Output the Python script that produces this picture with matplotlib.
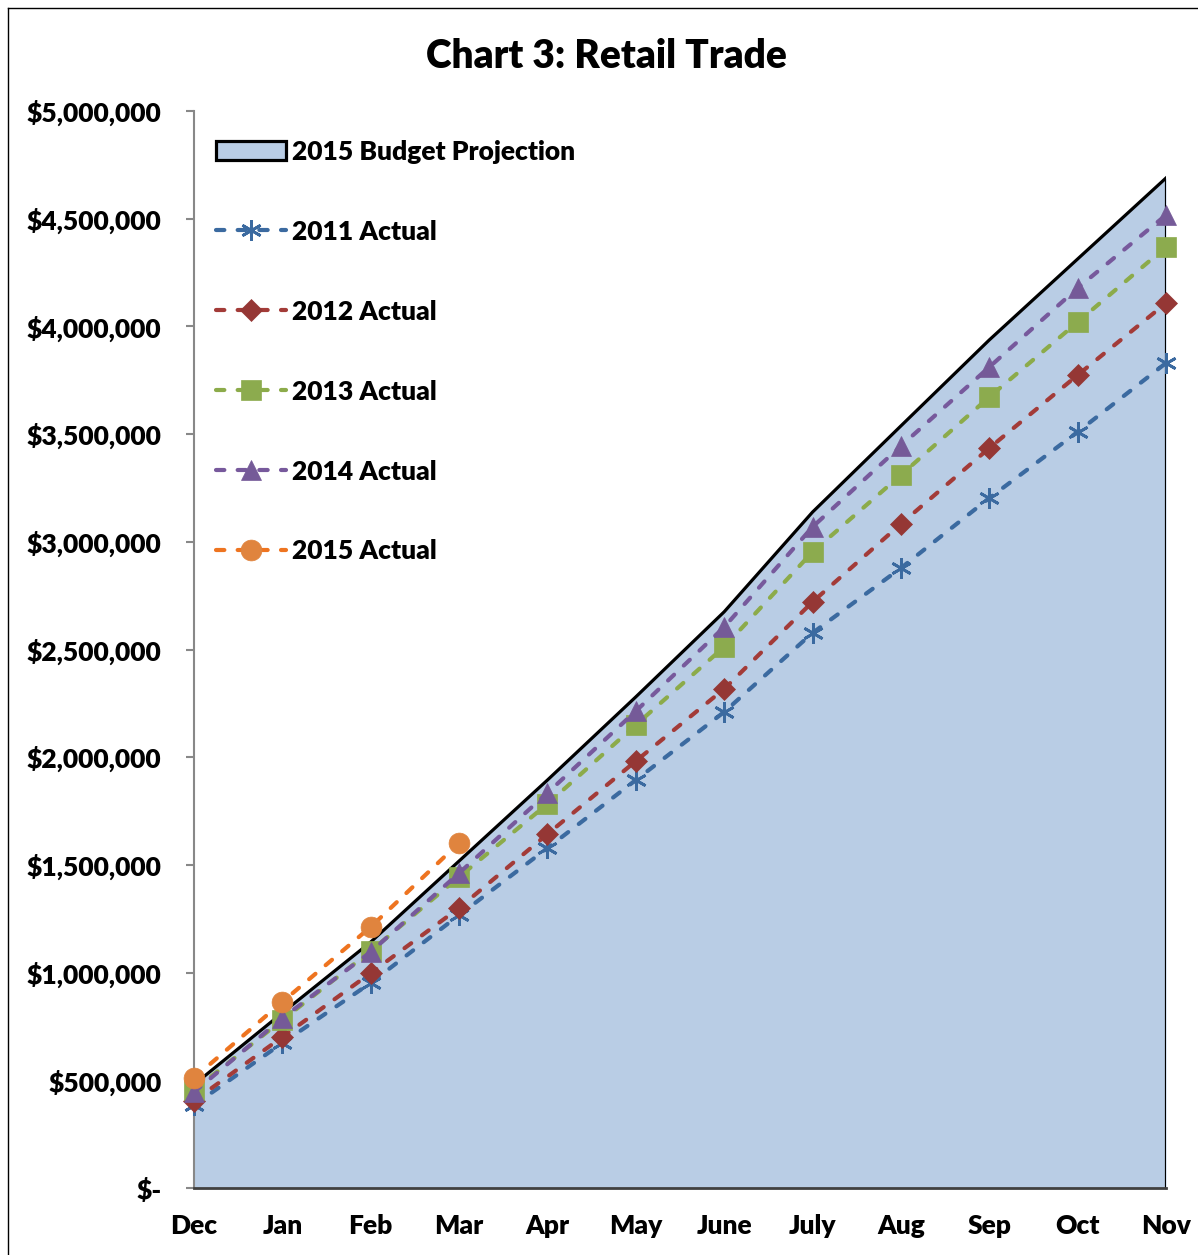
import matplotlib
matplotlib.use("Agg")
import matplotlib.pyplot as plt
from matplotlib.patches import Patch
from matplotlib.lines import Line2D
from matplotlib.ticker import FuncFormatter

months = ["Dec", "Jan", "Feb", "Mar", "Apr", "May", "June", "July", "Aug", "Sep", "Oct", "Nov"]
budget_2015 = [480000, 813000, 1142000, 1518000, 1894000, 2280000, 2675000, 3138000, 3538000, 3937000, 4313000, 4689000]
actual_2011 = [385000, 673000, 952000, 1267000, 1578000, 1894000, 2210000, 2577000, 2878000, 3203000, 3510000, 3830000]
actual_2012 = [405000, 701000, 998000, 1300000, 1643000, 1982000, 2317000, 2721000, 3083000, 3435000, 3774000, 4108000]
actual_2013 = [455000, 780000, 1100000, 1444000, 1783000, 2150000, 2512000, 2953000, 3310000, 3672000, 4020000, 4369000]
actual_2014 = [445000, 789000, 1096000, 1462000, 1834000, 2214000, 2604000, 3069000, 3445000, 3811000, 4178000, 4517000]
actual_2015 = [511000, 864000, 1212000, 1602000]

plt.rcParams['font.family'] = ['Lato', 'DejaVu Sans']
plt.rcParams['font.weight'] = 'heavy'
FS = 19

fig = plt.figure(figsize=(11.98, 12.55), dpi=100)
ax = fig.add_axes([194/1198, 67/1255, (1166-194)/1198, (1188-111)/1255])

x = list(range(len(months)))
fill_c = "#B9CDE5"
ax.fill_between(x, budget_2015, 0, color=fill_c, linewidth=0, zorder=1)
ax.plot(x, budget_2015, color="black", lw=2.3, zorder=2, solid_joinstyle='miter')
ax.vlines(x[-1], 0, budget_2015[-1], color="black", lw=2.3, zorder=2)

series = [
    ("2011 Actual", actual_2011, "#3B6AA0", "#3B6AA0", (6, 2, 0), 15),
    ("2012 Actual", actual_2012, "#A33B38", "#953735", "D", 11),
    ("2013 Actual", actual_2013, "#8CAB4A", "#8CAB4E", "s", 14),
    ("2014 Actual", actual_2014, "#77599C", "#755A98", "^", 15),
    ("2015 Actual", actual_2015, "#EE7420", "#E0843E", "o", 15),
]
handles = [Patch(facecolor=fill_c, edgecolor="black", linewidth=2.3, label="2015 Budget Projection")]
for label, vals, lc, mc, mk, ms in series:
    xs = x[:len(vals)]
    mew = 2 if mk == (6, 2, 0) else 0.5
    ln, = ax.plot(xs, vals, color=lc, lw=3, dashes=(2, 3.2), dash_capstyle='round',
                  marker=mk, markersize=ms, markerfacecolor=mc, markeredgecolor=mc,
                  markeredgewidth=mew, zorder=3, clip_on=False, label=label)
    handles.append(Line2D([], [], color=lc, lw=3, dashes=(2, 3.2), dash_capstyle='round',
                          marker=mk, markersize=ms, markerfacecolor=mc, markeredgecolor=mc,
                          markeredgewidth=mew, label=label))

ax.set_xlim(0, 11)
ax.set_ylim(0, 5000000)
ax.set_yticks(range(0, 5000001, 500000))
ax.yaxis.set_major_formatter(FuncFormatter(lambda v, p: "$-" if v == 0 else "${:,.0f}".format(v)))
ax.set_xticks(x)
ax.set_xticklabels(months)
ax.tick_params(axis='y', length=6, width=1.5, color="#888888", pad=17.5, labelsize=FS)
ax.tick_params(axis='x', length=0, pad=19, labelsize=FS)
for s in ["top", "right"]:
    ax.spines[s].set_visible(False)
ax.spines["left"].set_color("#888888")
ax.spines["left"].set_linewidth(1.5)
ax.spines["bottom"].set_color("#404040")
ax.spines["bottom"].set_linewidth(2)
ax.spines["bottom"].set_zorder(4)

leg = ax.legend(handles=handles, loc="upper left", bbox_to_anchor=(192/1198, 1 - 116/1255),
                bbox_transform=fig.transFigure, frameon=False, fontsize=FS,
                handlelength=2.65, handletextpad=0.23, labelspacing=2.12, handleheight=0.7)

fig.text(606/1198, 1 - 56/1255, "Chart 3: Retail Trade", ha="center", va="center",
         fontsize=28, fontweight="heavy")

fig.add_artist(Line2D([8/1198, 8/1198], [0, 1 - 8/1255], transform=fig.transFigure, color="black", lw=1))
fig.add_artist(Line2D([8/1198, 1], [1 - 8/1255, 1 - 8/1255], transform=fig.transFigure, color="black", lw=1))

fig.savefig("out.png", dpi=100)
